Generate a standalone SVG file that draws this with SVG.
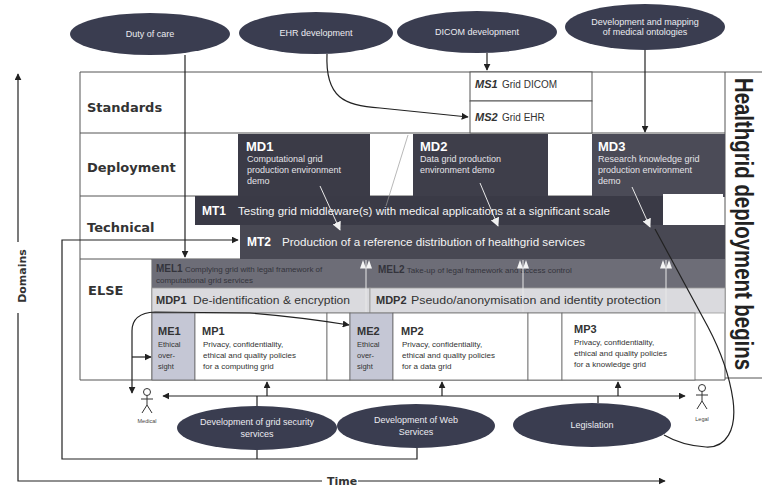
<svg xmlns="http://www.w3.org/2000/svg" width="762" height="489" viewBox="0 0 762 489">
<style>
.grid{fill:none;stroke:#555;stroke-width:1}
.ln{fill:none;stroke:#222;stroke-width:1.2}
.wl{fill:none;stroke:#e8e8e8;stroke-width:1}
.ov{fill:#3a3d50}
.ot{font-family:"Liberation Sans",Arial,sans-serif;font-size:9px;fill:#ececf0;text-anchor:middle}
.lbl{font-family:"DejaVu Sans",Verdana,sans-serif;font-weight:bold;font-size:13px;fill:#333}
.mid{font-family:"Liberation Sans",Arial,sans-serif;font-weight:bold;fill:#fff}
.dsc{font-family:"Liberation Sans",Arial,sans-serif;font-size:9px;fill:#e4e4e8}
.bt{font-family:"Liberation Sans",Arial,sans-serif;font-size:10px;fill:#f4f4f4}
.kb{font-family:"Liberation Sans",Arial,sans-serif;font-weight:bold;fill:#333}
.kt{font-family:"Liberation Sans",Arial,sans-serif;fill:#333}
.mel{font-family:"Liberation Sans",Arial,sans-serif;font-size:8px;fill:#34343c}
.fig{fill:none;stroke:#333;stroke-width:1}
</style>
<defs>
<marker id="ab" viewBox="0 0 10 10" refX="9" refY="5" markerWidth="7" markerHeight="7" markerUnits="userSpaceOnUse" orient="auto-start-reverse"><path d="M0,0 L10,5 L0,10 z" fill="#222"/></marker>
<marker id="aw" viewBox="0 0 10 10" refX="9" refY="5" markerWidth="9" markerHeight="9" markerUnits="userSpaceOnUse" orient="auto"><path d="M0,0 L10,5 L0,10 z" fill="#f0f0f0"/></marker>
<marker id="dw" viewBox="0 0 10 14" refX="10" refY="7" markerWidth="9" markerHeight="12" markerUnits="userSpaceOnUse" orient="auto"><path d="M0,0 L10,3.5 L0,7 z M0,7 L10,10.5 L0,14 z" fill="#f4f4f4"/></marker>
</defs>
<rect width="762" height="489" fill="#fff"/>

<!-- axes -->
<g id="axes">
<path class="ln" d="M18,242 V74" marker-end="url(#ab)"/>
<path class="ln" d="M18,313 V481 H322"/>
<path class="ln" d="M358,481 H665" marker-end="url(#ab)"/>
<text x="26" y="276" transform="rotate(-90 26 276)" text-anchor="middle" font-family="DejaVu Sans, sans-serif" font-weight="bold" font-size="11" fill="#333">Domains</text>
<text x="327" y="485" font-family="DejaVu Sans, sans-serif" font-weight="bold" font-size="11" fill="#333">Time</text>
</g>

<!-- grid -->
<g id="grid">
<path class="grid" d="M80,72 H762 M80,72 V380 M80,133 H725 M80,196 H725 M80,259 H725 M80,380 H725 M725,72 V380 M152,259 V380 M725,378 H762"/>
<text class="lbl" x="87" y="112">Standards</text>
<text class="lbl" x="87" y="172">Deployment</text>
<text class="lbl" x="87" y="232">Technical</text>
<text class="lbl" x="88" y="295">ELSE</text>
</g>

<g id="healthgrid">
<text x="735" y="224" transform="rotate(90 735 224)" text-anchor="middle" font-family="Liberation Sans, Arial, sans-serif" font-weight="bold" font-size="25" textLength="292" lengthAdjust="spacingAndGlyphs" fill="#222">Healthgrid deployment begins</text>
</g>

<!-- standards -->
<g id="MS1">
<rect x="470" y="72" width="122" height="29" fill="#fff" stroke="#555"/>
<text x="475" y="88" class="kb" font-size="11" font-style="italic">MS1</text>
<text x="502" y="88" class="kt" font-size="10">Grid DICOM</text>
</g>
<g id="MS2">
<rect x="470" y="101" width="122" height="32" fill="#fff" stroke="#555"/>
<text x="475" y="121" class="kb" font-size="11" font-style="italic">MS2</text>
<text x="502" y="121" class="kt" font-size="10">Grid EHR</text>
</g>

<!-- deployment -->
<g id="MD1">
<rect x="238" y="134" width="132" height="63" fill="#3b3b47"/>
<text x="246" y="151" class="mid" font-size="13">MD1</text>
<text x="247" y="162" class="dsc">Computational grid</text>
<text x="247" y="173" class="dsc">production environment</text>
<text x="247" y="184" class="dsc">demo</text>
</g>
<g id="MD2">
<rect x="413" y="134" width="135" height="63" fill="#3e3e4a"/>
<text x="420" y="151" class="mid" font-size="13">MD2</text>
<text x="420" y="162" class="dsc">Data grid production</text>
<text x="420" y="173" class="dsc">environment demo</text>
</g>
<g id="MD3">
<rect x="592" y="134" width="133" height="63" fill="#4b4b57"/>
<text x="598" y="151" class="mid" font-size="13">MD3</text>
<text x="598" y="162" class="dsc">Research knowledge grid</text>
<text x="598" y="173" class="dsc">production environment</text>
<text x="598" y="184" class="dsc">demo</text>
</g>

<!-- technical -->
<g id="MT1">
<rect x="195" y="196" width="468" height="29" fill="#3a3a46"/>
<rect x="663" y="194" width="60" height="30" fill="#fff"/>
<text x="202" y="215" class="mid" font-size="12">MT1</text>
<text x="238" y="215" class="bt" textLength="372" lengthAdjust="spacingAndGlyphs">Testing grid middleware(s) with medical applications at a significant scale</text>
</g>
<g id="MT2">
<rect x="240" y="225" width="485" height="34" fill="#484853"/>
<text x="247" y="246" class="mid" font-size="12">MT2</text>
<text x="282" y="246" class="bt" textLength="303" lengthAdjust="spacingAndGlyphs">Production of a reference distribution of healthgrid services</text>
</g>

<!-- ELSE -->
<g id="MEL">
<rect x="152" y="259" width="573" height="29" fill="#6d6d77"/>
<text x="156" y="272" class="mel"><tspan font-weight="bold" font-size="10">MEL1</tspan> Complying grid with legal framework of</text>
<text x="156" y="283" class="mel">computational grid services</text>
<text x="378" y="273" class="mel"><tspan font-weight="bold" font-size="10">MEL2</tspan> Take-up of legal framework and access control</text>
</g>
<g id="MDP1">
<rect x="152" y="288" width="218" height="25" fill="#dadade" stroke="#999" stroke-width="0.8"/>
<text x="156" y="304" class="kb" font-size="11">MDP1</text>
<text x="193" y="304" class="kt" font-size="10.5" textLength="157" lengthAdjust="spacingAndGlyphs">De-identification &amp; encryption</text>
</g>
<g id="MDP2">
<rect x="370" y="288" width="355" height="25" fill="#dadade" stroke="#999" stroke-width="0.8"/>
<text x="376" y="304" class="kb" font-size="11">MDP2</text>
<text x="411" y="304" class="kt" font-size="10.5" textLength="250" lengthAdjust="spacingAndGlyphs">Pseudo/anonymisation and identity protection</text>
</g>
<g id="ME1">
<rect x="152" y="313" width="43" height="67" fill="#c5c7d5" stroke="#666" stroke-width="0.8"/>
<text x="158" y="335" class="kb" font-size="11">ME1</text>
<text x="158" y="347" class="kt" font-size="7.5">Ethical</text>
<text x="158" y="358" class="kt" font-size="7.5">over-</text>
<text x="158" y="369" class="kt" font-size="7.5">sight</text>
</g>
<g id="MP1">
<rect x="195" y="313" width="132" height="67" fill="#fff" stroke="#666" stroke-width="0.8"/>
<text x="202" y="335" class="kb" font-size="11">MP1</text>
<text x="203" y="347" class="kt" font-size="8">Privacy, confidentiality,</text>
<text x="203" y="358" class="kt" font-size="8">ethical and quality policies</text>
<text x="203" y="369" class="kt" font-size="8">for a computing grid</text>
</g>
<g id="gap1"><rect x="327" y="313" width="23" height="67" fill="#fff" stroke="#666" stroke-width="0.8"/></g>
<g id="ME2">
<rect x="350" y="313" width="43" height="67" fill="#c5c7d5" stroke="#666" stroke-width="0.8"/>
<text x="357" y="335" class="kb" font-size="11">ME2</text>
<text x="357" y="347" class="kt" font-size="7.5">Ethical</text>
<text x="357" y="358" class="kt" font-size="7.5">over-</text>
<text x="357" y="369" class="kt" font-size="7.5">sight</text>
</g>
<g id="MP2">
<rect x="393" y="313" width="135" height="67" fill="#fff" stroke="#666" stroke-width="0.8"/>
<text x="401" y="335" class="kb" font-size="11">MP2</text>
<text x="402" y="347" class="kt" font-size="8">Privacy, confidentiality,</text>
<text x="402" y="358" class="kt" font-size="8">ethical and quality policies</text>
<text x="402" y="369" class="kt" font-size="8">for a data grid</text>
</g>
<g id="gap2"><rect x="528" y="313" width="34" height="67" fill="#fff" stroke="#666" stroke-width="0.8"/></g>
<g id="MP3">
<rect x="562" y="313" width="133" height="67" fill="#fff" stroke="#666" stroke-width="0.8"/>
<text x="574" y="333" class="kb" font-size="11">MP3</text>
<text x="574" y="345" class="kt" font-size="8">Privacy, confidentiality,</text>
<text x="574" y="356" class="kt" font-size="8">ethical and quality policies</text>
<text x="574" y="367" class="kt" font-size="8">for a knowledge grid</text>
</g>

<!-- top ovals -->
<g id="duty">
<ellipse class="ov" cx="150" cy="34" rx="80" ry="21"/>
<text class="ot" x="150" y="37">Duty of care</text>
</g>
<g id="ehr">
<ellipse class="ov" cx="316" cy="33" rx="77" ry="21"/>
<text class="ot" x="316" y="36">EHR development</text>
</g>
<g id="dicom">
<ellipse class="ov" cx="477" cy="32" rx="80" ry="21"/>
<text class="ot" x="477" y="35">DICOM development</text>
</g>
<g id="ontologies">
<ellipse class="ov" cx="645" cy="27" rx="80" ry="23"/>
<text class="ot" x="645" y="25">Development and mapping</text>
<text class="ot" x="645" y="35">of medical ontologies</text>
</g>

<!-- bottom ovals -->
<g id="security">
<ellipse class="ov" cx="257" cy="428" rx="80" ry="22"/>
<text class="ot" x="257" y="425">Development of grid security</text>
<text class="ot" x="257" y="437">services</text>
</g>
<g id="webservices">
<ellipse class="ov" cx="416" cy="426" rx="79" ry="22"/>
<text class="ot" x="416" y="423">Development of Web</text>
<text class="ot" x="416" y="435">Services</text>
</g>
<g id="legislation">
<ellipse class="ov" cx="592" cy="425" rx="79" ry="22"/>
<text class="ot" x="592" y="428">Legislation</text>
</g>

<!-- actors -->
<g id="medical">
<circle class="fig" cx="147" cy="392" r="3.5"/>
<path class="fig" d="M147,395.5 V405 M141,399 H153 M147,405 L142,413 M147,405 L152,413"/>
<text x="147" y="423" text-anchor="middle" font-family="Liberation Sans, Arial, sans-serif" font-size="5.5" fill="#444">Medical</text>
</g>
<g id="legal">
<circle class="fig" cx="702" cy="388" r="3.5"/>
<path class="fig" d="M702,391.5 V401 M696,395 H708 M702,401 L697,409 M702,401 L707,409"/>
<text x="702" y="421" text-anchor="middle" font-family="Liberation Sans, Arial, sans-serif" font-size="5.5" fill="#444">Legal</text>
</g>

<!-- connectors -->
<g id="connectors">
<path class="ln" d="M185,55 V257" marker-end="url(#ab)"/>
<path class="ln" d="M327,54 C325,98 345,106 380,108 L468,117" marker-end="url(#ab)"/>
<path class="ln" d="M487,53 V70" marker-end="url(#ab)"/>
<path class="ln" d="M645,50 V132" marker-end="url(#ab)"/>
<path d="M408,135 L386,206" fill="none" stroke="#999" stroke-width="0.7"/>
<path class="wl" d="M320,186 L340,230" marker-end="url(#aw)"/>
<path class="wl" d="M480,183 L498,226" marker-end="url(#aw)"/>
<path class="wl" d="M632,187 L650,227" marker-end="url(#aw)"/>
<path class="wl" d="M366,312 V260" marker-end="url(#dw)"/>
<path class="wl" d="M523,312 V260" marker-end="url(#dw)"/>
<path class="wl" d="M666,312 V260" marker-end="url(#dw)"/>
<path class="ln" d="M417,448 V459 H62 V240 H238" marker-end="url(#ab)"/>
<path class="ln" d="M257,450 V459 M257,406 V396 M598,403 V396"/>
<path class="ln" d="M163,396 H685" marker-start="url(#ab)" marker-end="url(#ab)"/>
<path class="ln" d="M267,396 V382" marker-end="url(#ab)"/>
<path class="ln" d="M442,396 V382" marker-end="url(#ab)"/>
<path class="ln" d="M618,396 V382" marker-end="url(#ab)"/>
<path class="ln" d="M132,393 V331 Q132,313 155,312 L250,313 Q300,317 349,325" marker-start="url(#ab)" marker-end="url(#ab)"/>
<path class="ln" d="M132,357 H151" marker-end="url(#ab)"/>
<path class="ln" d="M655,229 L708,327 Q728,365 733,400 C737,430 726,448 706,447 C690,446 676,442 664,435"/>
</g>
</svg>
